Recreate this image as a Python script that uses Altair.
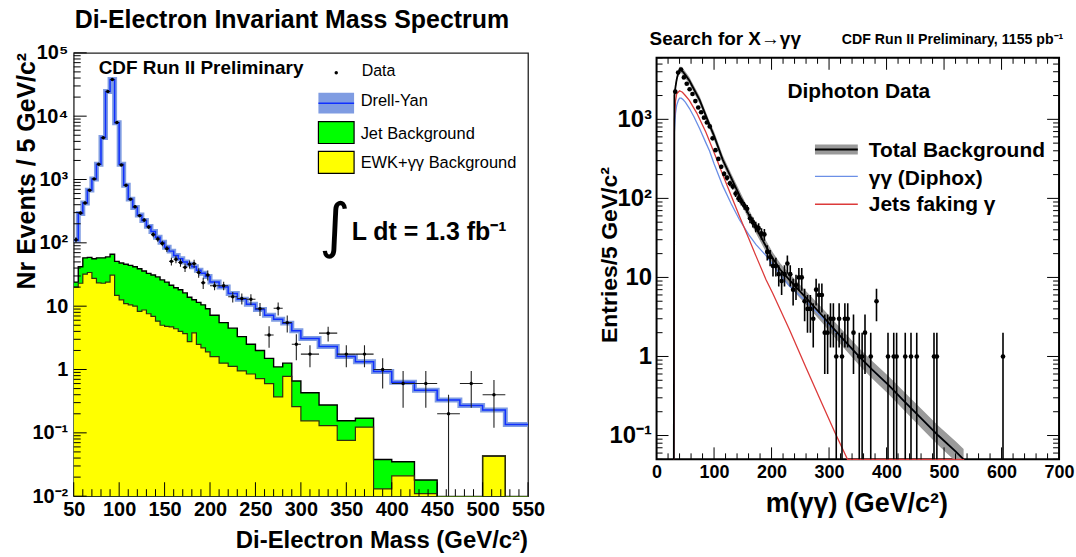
import altair as alt
import pandas as pd

FONT = "Liberation Sans"

# ================= Left panel: di-electron spectrum (entries per 5 GeV/c^2) =================
ee_lo = list(range(50, 200, 5)) + list(range(200, 300, 10)) + [300, 320, 340, 360, 380, 400, 425, 450, 475, 500, 525]
ee_hi = ee_lo[1:] + [550]

drell_yan = [110, 290, 425, 680, 1020, 1740, 4600, 24500, 38000, 7900,
             1740, 810, 490, 360, 275, 225, 182, 151, 123, 102,
             85, 74, 63, 56, 50, 46, 42, 37, 33, 29.5,
             24, 20, 15.8, 12.9, 10.7, 8.9, 7.2, 6.2, 5.4, 4.1,
             3.1, 2.3, 1.6, 1.33, 0.93, 0.63, 0.47, 0.33, 0.27, 0.23, 0.135]

ee_data = [112, 295, 427, 676, 1023, 1738, 4570, 24500, 38000, 7940,
           1700, 813, 490, 372, 269, 229, 178, 135, 115, 98,
           81, 51, 55, 49, 41, 46, 47, 34, 23.4, 31,
           21, 21, 14.1, 13.2, 12.9, 9.1, 3.5, 9.3, 5.5, 2.5,
           1.75, 3.75, 1.75, 1.75, 1.0, 0.6, 0.6, 0.2, 0.6, 0.4, None]

ee_err = [11, 17, 21, 26, 32, 42, 68, 157, 195, 89,
          41, 29, 22, 19, 16, 15, 13, 12, 11, 10,
          9, 7, 7.4, 7, 6.4, 6.8, 6.9, 5.8, 4.8, 5.6,
          3.2, 3.2, 2.65, 2.6, 2.5, 2.1, 1.3, 2.15, 1.65, 1.1,
          0.66, 0.97, 0.66, 0.66, 0.5, 0.35, 0.35, 0.2, 0.35, 0.28, None]

jet_plus_ewk = [24, 42, 58, 59, 56, 58, 58, 60, 66, 51,
                48, 46, 44, 42, 39, 36, 33, 31, 29, 26,
                24, 21.4, 19.5, 18.2, 16.2, 13.8, 12.6, 11.5, 10.5, 9.1,
                7.2, 5.5, 4.5, 3.3, 2.5, 2.0, 1.5, 1.1, 1.26, 0.66,
                0.43, 0.275, 0.155, 0.17, 0.038, 0.035, 0.018, 0, 0, 0.043, 0]

ewk_gg = [20, 23, 32, 34, 27.5, 23.4, 23, 24, 31, 14.8,
          12.6, 11, 10.5, 10, 8.3, 8.7, 7.6, 6.9, 5.8, 5.0,
          4.8, 4.7, 4.4, 4.0, 3.7, 2.75, 3.8, 2.5, 2.2, 1.9,
          1.6, 1.26, 1.12, 0.95, 0.85, 0.72, 0.6, 0.37, 0.78, 0.26,
          0.155, 0.13, 0.076, 0.123, 0.013, 0.021, 0.011, 0, 0, 0.043, 0]

# ================= Right panel: diphoton spectrum (entries per 5 GeV/c^2) =================
gg_mass = [30, 31, 33, 35, 38, 40, 43, 46, 50, 57,
           65, 75, 86, 92, 100, 115, 130, 144, 160, 173,
           190, 202, 215, 231, 260, 288, 320, 352, 375, 404,
           430, 462, 490, 520, 534]
gg_total = [0.05, 2000, 2600, 3200, 3900, 4200, 4200, 4000, 3650, 3100,
            2400, 1750, 1100, 850, 620, 310, 180, 110, 63, 42,
            25, 17.5, 12.6, 9.3, 5.5, 3.3, 1.8, 1.0, 0.68, 0.43,
            0.275, 0.16, 0.10, 0.063, 0.050]
gg_band = [1.10, 1.10, 1.10, 1.10, 1.10, 1.10, 1.10, 1.10, 1.10, 1.11,
           1.11, 1.12, 1.12, 1.12, 1.13, 1.13, 1.14, 1.15, 1.16, 1.17,
           1.18, 1.19, 1.20, 1.21, 1.22, 1.24, 1.26, 1.28, 1.29, 1.30,
           1.31, 1.32, 1.33, 1.34, 1.35]
gg_diphox = [0.05, 700, 1200, 1500, 1750, 1850, 1850, 1780, 1650, 1380,
             1080, 760, 500, 400, 275, 145, 85, 54, 35, 26,
             19, 14.5, 10.8, 7.8, 5.0, 3.1, 1.75, 1.0, 0.68, 0.43,
             0.275, 0.16, 0.10, 0.063, 0.050]

jet_mass = [30, 31, 33, 35, 40, 45, 50, 57, 70, 86,
            100, 115, 130, 144, 160, 173, 190, 202, 231, 260,
            288, 310, 332, 400, 480, 535]
gg_jets = [0.05, 1000, 1700, 2100, 2300, 2200, 2000, 1740, 1200, 680,
           380, 200, 107, 60, 31.6, 18.6, 9.5, 6.3, 2.2, 0.72,
           0.25, 0.11, 0.05, 0.05, 0.05, 0.05]

gg_center = [32.5, 37.5, 42.5, 47.5, 52.5, 57.5, 62.5, 67.5, 72.5, 77.5,
             82.5, 87.5, 92.5, 97.5, 102.5, 107.5, 112.5, 117.5, 122.5, 127.5,
             132.5, 137.5, 142.5, 147.5, 152.5, 157.5, 162.5, 167.5, 172.5, 177.5,
             182.5, 187.5, 192.5, 197.5, 202.5, 207.5, 212.5, 217.5, 222.5, 227.5,
             232.5, 237.5, 242.5, 247.5, 252.5, 257.5, 262.5, 267.5, 272.5, 277.5,
             282.5, 287.5, 292.5, 297.5, 302.5, 307.5, 312.5, 317.5, 322.5, 327.5,
             332.5, 342.5, 352.5, 357.5, 362.5, 372.5, 382.5, 402.5, 412.5, 417.5,
             432.5, 442.5, 452.5, 482.5, 487.5, 602.5]
gg_counts = [2240, 3900, 4270, 3390, 2820, 2400, 2090, 1700, 1410, 1230,
             1050, 912, 813, 575, 407, 316, 251, 204, 182, 155,
             141, 115, 100, 91, 81, 74, 56, 50, 44, 42,
             36, 35, 21, 18, 14, 14, 11, 9, 11, 15,
             11, 7, 8, 10, 10, 5, 4, 4, 3, 7,
             6, 6, 2, 2, 3, 3, 1, 3, 1, 3,
             3, 2, 1, 1, 2, 1, 5, 1, 1, 1,
             1, 1, 1, 1, 1, 1]
gg_errors = [47, 62, 65, 58, 53, 49, 46, 41, 38, 35,
             32, 30, 29, 24, 20, 18, 16, 14, 13.5, 12.4,
             11.9, 10.7, 10, 9.5, 9, 8.6, 7.5, 7.1, 6.6, 6.5,
             6, 5.9, 4.6, 4.2, 3.7, 3.7, 3.3, 3, 3.3, 3.9,
             3.3, 2.6, 2.8, 3.2, 3.2, 2.2, 2, 2, 1.7, 2.6,
             2.4, 2.4, 1.4, 1.4, 1.7, 1.7, 1, 1.7, 1, 1.7,
             1.7, 1.4, 1, 1, 1.4, 1, 2.2, 1, 1, 1,
             1, 1, 1, 1, 1, 1]

# ================= layout constants =================
LW, LH = 456, 445     # left plot area
RW, RH = 404, 403     # right plot area
FLOOR = 1e-4
ONE = pd.DataFrame({"k": [0]})


def text(s, x, y, size, weight="bold", align="left", baseline="middle", angle=0, font=FONT, color="black"):
    return alt.Chart(ONE).mark_text(
        text=s, font=font, fontSize=size, fontWeight=weight, align=align,
        baseline=baseline, angle=angle, color=color
    ).encode(x=alt.value(x), y=alt.value(y))


def box(x1, x2, y1, y2, fill, stroke=None, sw=1.0):
    kw = dict(color=fill)
    if stroke:
        kw.update(stroke=stroke, strokeWidth=sw)
    return alt.Chart(ONE).mark_rect(**kw).encode(
        x=alt.value(x1), x2=alt.value(x2), y=alt.value(y1), y2=alt.value(y2))


def hline(x1, x2, y, color, sw):
    return alt.Chart(ONE).mark_rule(color=color, strokeWidth=sw).encode(
        x=alt.value(x1), x2=alt.value(x2), y=alt.value(y))


# ---------------- left panel ----------------
xs_l = alt.Scale(domain=[50, 550], nice=False, zero=False)
ys_l = alt.Scale(type="log", domain=[0.01, 1e5], nice=False)

ax_xl = alt.Axis(values=list(range(50, 551, 50)), ticks=False, domain=False, grid=False,
                 labelFont=FONT, labelFontWeight="bold", labelFontSize=20, labelColor="black",
                 labelPadding=3, labelFlush=False, labelOverlap=False, title=None)
ax_yl = alt.Axis(values=[0.01, 0.1, 1, 10, 100, 1000, 10000, 100000], ticks=False, domain=False,
                 grid=False, labelFont=FONT, labelFontWeight="bold", labelFontSize=20,
                 labelColor="black", labelPadding=6, labelFlush=False, labelOverlap=False, title=None,
                 labelExpr="datum.value >= 99999 ? '10\u2075' : datum.value >= 9999 ? '10\u2074' : "
                           "datum.value >= 999 ? '10\u00b3' : datum.value >= 99 ? '10\u00b2' : "
                           "datum.value >= 9 ? '10' : datum.value >= 0.9 ? '1' : "
                           "datum.value >= 0.09 ? '10\u207b\u00b9' : '10\u207b\u00b2'")


def XL(f):
    return alt.X(f, type="quantitative", scale=xs_l, axis=ax_xl)


def YL(f):
    return alt.Y(f, type="quantitative", scale=ys_l, axis=ax_yl)


def stepify(vals):
    v = [x if (x is not None and x > 0) else FLOOR for x in vals]
    return v + [v[-1]]


st = pd.DataFrame({"x": ee_lo + [550], "dy": stepify(drell_yan),
                   "tot": stepify(jet_plus_ewk), "ewk": stepify(ewk_gg)})
st["base"] = 0.01

ee = pd.DataFrame({"lo": ee_lo, "hi": ee_hi, "data": ee_data, "err": ee_err})
ee["c"] = (ee["lo"] + ee["hi"]) / 2
pts = ee.dropna(subset=["data"]).copy()
pts["ylo"] = (pts["data"] - pts["err"]).clip(lower=FLOOR)
pts["yhi"] = pts["data"] + pts["err"]

green = alt.Chart(st).mark_area(interpolate="step-after", color="#00ff00", clip=True).encode(
    x=XL("x"), y=YL("tot"), y2="base:Q")
yellow = alt.Chart(st).mark_area(interpolate="step-after", color="#ffff00", clip=True).encode(
    x=XL("x"), y=YL("ewk"), y2="base:Q")
green_edge = alt.Chart(st).mark_line(interpolate="step-after", color="black", strokeWidth=1.4, clip=True).encode(
    x=XL("x"), y=YL("tot"))
yellow_edge = alt.Chart(st).mark_line(interpolate="step-after", color="#303010", strokeWidth=1.2, clip=True).encode(
    x=XL("x"), y=YL("ewk"))
dy_band = alt.Chart(st).mark_line(interpolate="step-after", color="#7f9ce2", strokeWidth=5, clip=True).encode(
    x=XL("x"), y=YL("dy"))
dy_line = alt.Chart(st).mark_line(interpolate="step-after", color="#1030ff", strokeWidth=1.5, clip=True).encode(
    x=XL("x"), y=YL("dy"))
ee_vbar = alt.Chart(pts).mark_rule(color="#202020", strokeWidth=1.1, clip=True).encode(
    x=XL("c"), y=YL("ylo"), y2="yhi:Q")
ee_hbar = alt.Chart(pts).mark_rule(color="#202020", strokeWidth=1.1, clip=True).encode(
    x=XL("lo"), x2="hi:Q", y=YL("data"))
ee_pts = alt.Chart(pts).mark_circle(color="black", size=12, opacity=1).encode(
    x=XL("c"), y=YL("data"))

yl_major = pd.DataFrame({"v": [10.0 ** e for e in range(-2, 6)]})
yl_minor = pd.DataFrame({"v": [m * 10.0 ** e for e in range(-2, 5) for m in range(2, 10)]})
xl_major = pd.DataFrame({"v": list(range(50, 551, 50))})
xl_minor = pd.DataFrame({"v": [v for v in range(60, 550, 10) if v % 50]})


def yticks(df, Y, x1, x2):
    return alt.Chart(df).mark_rule(color="black", strokeWidth=1).encode(
        y=Y("v"), x=alt.value(x1), x2=alt.value(x2))


def xticks(df, X, y1, y2):
    return alt.Chart(df).mark_rule(color="black", strokeWidth=1).encode(
        x=X("v"), y=alt.value(y1), y2=alt.value(y2))


left_ticks = [yticks(yl_major, YL, 0, 13), yticks(yl_minor, YL, 0, 7),
              xticks(xl_major, XL, LH, LH - 14), xticks(xl_minor, XL, LH, LH - 7)]

left_text = [
    text("Di-Electron Invariant Mass Spectrum", 1, -33, 25),
    text("Nr Events / 5 GeV/c\u00b2", -47, 0, 25, align="right", angle=270),
    text("Di-Electron Mass (GeV/c\u00b2)", LW, 490, 24, align="right"),
    text("CDF Run II Preliminary", 25, 15, 19),
    text("Data", 289, 18, 16, weight="normal"),
    text("Drell-Yan", 288, 48, 16.5, weight="normal"),
    text("Jet Background", 288, 81, 16.5, weight="normal"),
    text("EWK+\u03b3\u03b3 Background", 288, 111, 16.5, weight="normal"),
    text("\u222b", 262, 176, 60, weight="normal", align="center", font="DejaVu Sans"),
    text("L dt = 1.3 fb\u207b\u00b9", 279, 180, 25),
]
left_legend = [
    alt.Chart(ONE).mark_circle(color="black", size=12, opacity=1).encode(x=alt.value(263.5), y=alt.value(20)),
    box(245.6, 281.4, 40, 61, "#7f9ce2"),
    hline(245.6, 281.4, 50.5, "#1030ff", 1.5),
    box(245.6, 281.4, 69, 91, "#00ff00", "black", 1.2),
    box(245.6, 281.4, 99, 121, "#ffff00", "black", 1.2),
]
anchor = alt.Chart(ONE).mark_rule(color="white", strokeWidth=1).encode(
    x=alt.value(-72), x2=alt.value(-71), y=alt.value(-50), y2=alt.value(-49))

left = alt.layer(
    green, yellow, green_edge, yellow_edge, dy_band, dy_line,
    *left_ticks, ee_hbar, ee_vbar, ee_pts, *left_legend, *left_text, anchor
).properties(width=LW, height=LH, view=alt.ViewBackground(stroke="#222222", strokeWidth=1.3))

# ---------------- right panel ----------------
xs_r = alt.Scale(domain=[0, 700], nice=False, zero=False)
ys_r = alt.Scale(type="log", domain=[0.05, 6000], nice=False)

ax_xr = alt.Axis(values=list(range(0, 701, 100)), ticks=False, domain=False, grid=False,
                 labelFont=FONT, labelFontWeight="bold", labelFontSize=18, labelColor="black",
                 labelPadding=4, labelFlush=False, labelOverlap=False, title=None)
ax_yr = alt.Axis(values=[0.1, 1, 10, 100, 1000], ticks=False, domain=False, grid=False,
                 labelFont=FONT, labelFontWeight="bold", labelFontSize=24, labelColor="black",
                 labelPadding=5, labelFlush=False, labelOverlap=False, title=None,
                 labelExpr="datum.value >= 999 ? '10\u00b3' : datum.value >= 99 ? '10\u00b2' : "
                           "datum.value >= 9 ? '10' : datum.value >= 0.9 ? '1' : '10\u207b\u00b9'")


def XR(f):
    return alt.X(f, type="quantitative", scale=xs_r, axis=ax_xr)


def YR(f):
    return alt.Y(f, type="quantitative", scale=ys_r, axis=ax_yr)


tot = pd.DataFrame({"m": gg_mass, "t": gg_total, "b": gg_diphox, "f": gg_band})
tot["lo"] = tot["t"] / tot["f"]
tot["hi"] = tot["t"] * tot["f"]
jets = pd.DataFrame({"m": jet_mass, "j": gg_jets})
gg = pd.DataFrame({"c": gg_center, "n": gg_counts, "e": gg_errors})
gg["lo"] = (gg["n"] - gg["e"]).clip(lower=FLOOR)
gg["hi"] = gg["n"] + gg["e"]

band = alt.Chart(tot).mark_area(color="#9a9a9a", clip=True).encode(
    x=XR("m"), y=YR("lo"), y2="hi:Q")
blue = alt.Chart(tot).mark_line(color="#6b8fe6", strokeWidth=1.3, clip=True).encode(
    x=XR("m"), y=YR("b"))
red = alt.Chart(jets).mark_line(color="#dc3a3a", strokeWidth=1.3).encode(
    x=XR("m"), y=YR("j"))
black = alt.Chart(tot).mark_line(color="black", strokeWidth=1.8, clip=True).encode(
    x=XR("m"), y=YR("t"))
gg_bar = alt.Chart(gg).mark_rule(color="black", strokeWidth=1.6, clip=True).encode(
    x=XR("c"), y=YR("lo"), y2="hi:Q")
gg_pts = alt.Chart(gg).mark_circle(color="black", size=22, opacity=1).encode(
    x=XR("c"), y=YR("n"))

yr_major = pd.DataFrame({"v": [0.1, 1, 10, 100, 1000]})
yr_minor = pd.DataFrame({"v": [m * 10.0 ** e for e in range(-2, 4) for m in range(2, 10)
                               if 0.05 <= m * 10.0 ** e <= 6000]})
xr_major = pd.DataFrame({"v": list(range(0, 701, 100))})
xr_minor = pd.DataFrame({"v": [v for v in range(20, 700, 20) if v % 100]})

right_ticks = [yticks(yr_major, YR, 0, 12), yticks(yr_minor, YR, 0, 6),
               yticks(yr_major, YR, RW, RW - 12), yticks(yr_minor, YR, RW, RW - 6),
               xticks(xr_major, XR, RH, RH - 12), xticks(xr_minor, XR, RH, RH - 6),
               xticks(xr_major, XR, 0, 12), xticks(xr_minor, XR, 0, 6)]

right_text = [
    text("Search for X\u2192\u03b3\u03b3", -7, -19, 19),
    text("CDF Run II Preliminary, 1155 pb\u207b\u00b9", 186, -18, 14.2),
    text("Diphoton Data", 203, 34, 21, align="center"),
    text("Total Background", 213, 94, 21),
    text("\u03b3\u03b3 (Diphox)", 213, 122, 21),
    text("Jets faking \u03b3", 213, 148, 21),
    text("Entries/5 GeV/c\u00b2", -47, 198, 23, align="center", angle=270),
    text("m(\u03b3\u03b3) (GeV/c\u00b2)", 201, 448, 27, align="center"),
]
right_legend = [
    box(159, 202, 87, 97, "#9a9a9a"),
    hline(159, 202, 92, "black", 2),
    hline(159, 202, 119, "#6b8fe6", 1.5),
    hline(159, 202, 147, "#dc3a3a", 1.5),
]

right = alt.layer(
    band, blue, red, black, *right_ticks, gg_bar, gg_pts, *right_legend, *right_text
).properties(width=RW, height=RH, view=alt.ViewBackground(stroke="black", strokeWidth=2))

spacer = alt.Chart(ONE).mark_rule(color="white").encode(
    x=alt.value(0), x2=alt.value(1), y=alt.value(0), y2=alt.value(1)
).properties(width=RW, height=5)

right_col = alt.vconcat(spacer, right, spacing=0, bounds="flush")

chart = alt.hconcat(left, right_col, spacing=129, bounds="flush").properties(
    padding=0, background="white"
).configure_view(strokeWidth=0)

chart.save("out.html", embed_options={"renderer": "svg", "actions": False})
